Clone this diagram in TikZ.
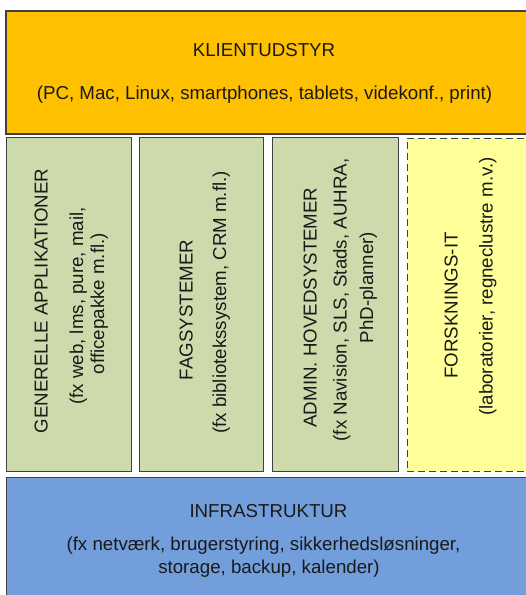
\documentclass[tikz,border=0pt]{standalone}
\usepackage{fontspec}
\setmainfont{Liberation Sans}
\definecolor{klientc}{HTML}{FFC000}
\definecolor{greenc}{HTML}{CDDBAC}
\definecolor{yellowc}{HTML}{FFFF99}
\definecolor{bluec}{HTML}{729FDB}
\definecolor{edgec}{HTML}{404040}
\begin{document}
\begin{tikzpicture}[x=1pt,y=-1pt,
  box/.style={draw=edgec, line width=1pt, inner sep=0pt, outer sep=0pt, anchor=north west},
  lbl/.style={font=\fontsize{18.7}{22}\selectfont, text=black!90, inner sep=0pt, outer sep=0pt, anchor=base},
  vlbl/.style={lbl, rotate=90}]
\useasboundingbox (0,0) rectangle (526,595);
\clip (0,0) rectangle (526,595);
% boxes
\node[box, fill=klientc, line width=1.3pt, minimum width=600pt, minimum height=123pt] (klient) at (6,11) {};
\node[box, fill=greenc, minimum width=125pt, minimum height=334pt] (gen) at (6,137.5) {};
\node[box, fill=greenc, minimum width=124pt, minimum height=334pt] (fag) at (139,137.5) {};
\node[box, fill=greenc, minimum width=125.5pt, minimum height=334pt] (admin) at (272.5,137.5) {};
\node[box, fill=yellowc, dash pattern=on 7pt off 4pt, minimum width=200pt, minimum height=333pt] (forsk) at (407,138) {};
\node[box, fill=bluec, minimum width=600pt, minimum height=200pt] (infra) at (6,477) {};
% horizontal texts
\node[lbl] (klientA) at (264,56) {KLIENTUDSTYR};
\node[lbl] (klientB) at (264.5,99) {(PC, Mac, Linux, smartphones, tablets, videkonf., print)};
\node[lbl] (infraA) at (268.5,517) {INFRASTRUKTUR};
\node[lbl] (infraB) at (263.5,550) {(fx netværk, brugerstyring, sikkerhedsløsninger,};
\node[lbl] (infraC) at (269,573) {storage, backup, kalender)};
% vertical texts
\node[vlbl] (genA) at (47.5,301) {GENERELLE APPLIKATIONER};
\node[vlbl] (genB) at (83,306) {(fx web, lms, pure, mail,};
\node[vlbl] (genC) at (104,303.5) {officepakke m.fl.)};
\node[vlbl] (fagA) at (192.5,310) {FAGSYSTEMER};
\node[vlbl] (fagB) at (226,302.5) {(fx bibliotekssystem, CRM m.fl.)};
\node[vlbl] (adminA) at (316.7,307.5) {ADMIN. HOVEDSYSTEMER};
\node[vlbl] (adminB) at (346.5,300) {(fx Navision, SLS, Stads, AUHRA,};
\node[vlbl] (adminC) at (373,287.5) {PhD-planner)};
\node[vlbl] (forskA) at (457.7,305.5) {FORSKNINGS-IT};
\node[vlbl] (forskB) at (492.5,286.5) {(laboratorier, regneclustre m.v.)};
\end{tikzpicture}
\end{document}
